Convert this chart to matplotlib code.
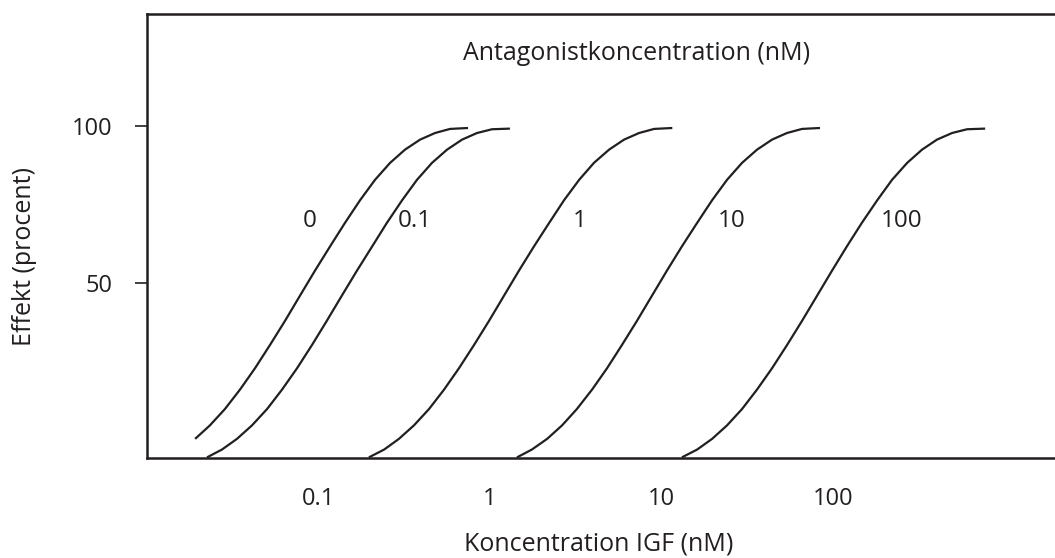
import matplotlib

matplotlib.use("Agg")
import matplotlib.pyplot as plt
from matplotlib.ticker import FixedLocator, NullLocator

plt.rcParams["font.family"] = ["Open Sans", "DejaVu Sans"]

INK = "#231f20"

# IGF concentration (nM) vs. effect (%) for each antagonist concentration (nM)
antagonist_levels = ["0", "0.1", "1", "10", "100"]

igf_0 = [0.0191, 0.0233, 0.0285, 0.0349, 0.0427, 0.0522, 0.0639, 0.0781,
         0.0956, 0.117, 0.143, 0.175, 0.214, 0.262, 0.320, 0.392, 0.479,
         0.586, 0.746]
effect_0 = [0.4, 4.7, 9.9, 16.1, 22.9, 30.3, 38.0, 46.0,
            54.0, 61.7, 69.2, 76.4, 82.9, 88.3, 92.5, 95.7, 97.8,
            99.1, 99.4]

igf_01 = [0.0224, 0.0274, 0.0335, 0.0410, 0.0502, 0.0614, 0.0751, 0.0918,
          0.112, 0.137, 0.168, 0.206, 0.251, 0.308, 0.376, 0.460, 0.563,
          0.689, 0.842, 1.03, 1.31]
effect_01 = [-5.5, -3.0, 0.4, 4.7, 9.9, 16.1, 22.9, 30.3,
             38.0, 46.0, 54.0, 61.7, 69.2, 76.4, 82.9, 88.3, 92.5,
             95.7, 97.8, 99.0, 99.2]

igf_1 = [0.197, 0.242, 0.295, 0.361, 0.442, 0.541, 0.661, 0.809,
         0.990, 1.21, 1.48, 1.81, 2.22, 2.71, 3.32, 4.05, 4.96,
         6.07, 7.42, 9.08, 11.6]
effect_1 = [-5.5, -3.0, 0.4, 4.7, 9.9, 16.1, 22.9, 30.3,
            38.0, 46.0, 54.0, 61.7, 69.2, 76.4, 82.9, 88.3, 92.5,
            95.7, 97.8, 99.1, 99.4]

igf_10 = [1.44, 1.76, 2.16, 2.64, 3.22, 3.95, 4.83, 5.90,
          7.22, 8.83, 10.8, 13.2, 16.2, 19.8, 24.2, 29.6, 36.2,
          44.3, 54.1, 66.2, 84.3]
effect_10 = [-5.5, -3.0, 0.4, 4.7, 9.9, 16.1, 22.9, 30.3,
             38.0, 46.0, 54.0, 61.7, 69.2, 76.4, 82.9, 88.3, 92.5,
             95.7, 97.8, 99.1, 99.4]

igf_100 = [13.2, 16.2, 19.8, 24.2, 29.6, 36.2, 44.3, 54.2,
           66.3, 81.1, 99.2, 121, 148, 182, 222, 272, 332,
           406, 497, 608, 775]
effect_100 = [-5.5, -3.0, 0.4, 4.7, 9.9, 16.1, 22.9, 30.3,
              38.0, 46.0, 54.0, 61.7, 69.2, 76.4, 82.9, 88.3, 92.5,
              95.7, 97.8, 99.0, 99.2]

igf_ticks = [0.1, 1, 10, 100]
effect_ticks = [50, 100]

curves = [
    (igf_0, effect_0),
    (igf_01, effect_01),
    (igf_1, effect_1),
    (igf_10, effect_10),
    (igf_100, effect_100),
]

# where each antagonist level is written next to its curve (baseline)
level_label_x = [0.089, 0.366, 3.36, 25.8, 253]
level_label_y = 67.8

fig = plt.figure(figsize=(10.55, 5.58), dpi=100)
# the frame runs past the right edge of the figure, so no right spine shows
ax = fig.add_axes([0.1393, 0.1792, 0.8900, 0.7957])

for xs, ys in curves:
    ax.plot(xs, ys, color=INK, linewidth=1.6, solid_joinstyle="round",
            solid_capstyle="butt")

for text, x in zip(antagonist_levels, level_label_x):
    ax.text(x, level_label_y, text, ha="center", va="baseline",
            fontsize=17.5, color=INK)

ax.text(0.521, 0.8964, "Antagonistkoncentration (nM)", transform=ax.transAxes,
        ha="center", va="baseline", fontsize=18, color=INK)

ax.set_xscale("log")
ax.set_xlim(0.01, 3000)
ax.set_ylim(-5.7, 135.7)

ax.xaxis.set_major_locator(FixedLocator(igf_ticks))
ax.xaxis.set_minor_locator(NullLocator())
ax.set_xticklabels(["0.1", "1", "10", "100"])
ax.set_yticks(effect_ticks)
ax.set_yticklabels([str(v) for v in effect_ticks])

ax.tick_params(axis="x", length=0, pad=21, labelsize=17, labelcolor=INK)
ax.tick_params(axis="y", length=9, width=1.2, color=INK, pad=16,
               labelsize=17, labelcolor=INK)

ax.set_xlabel("Koncentration IGF (nM)", fontsize=18, color=INK)
ax.set_ylabel("Effekt (procent)", fontsize=18, color=INK)
ax.xaxis.set_label_coords(0.481, -0.165)
ax.yaxis.set_label_coords(-0.117, 0.453)

for side in ("left", "bottom", "top", "right"):
    ax.spines[side].set_linewidth(1.8)
    ax.spines[side].set_color(INK)

fig.savefig("out.png", dpi=100)
plt.close(fig)
